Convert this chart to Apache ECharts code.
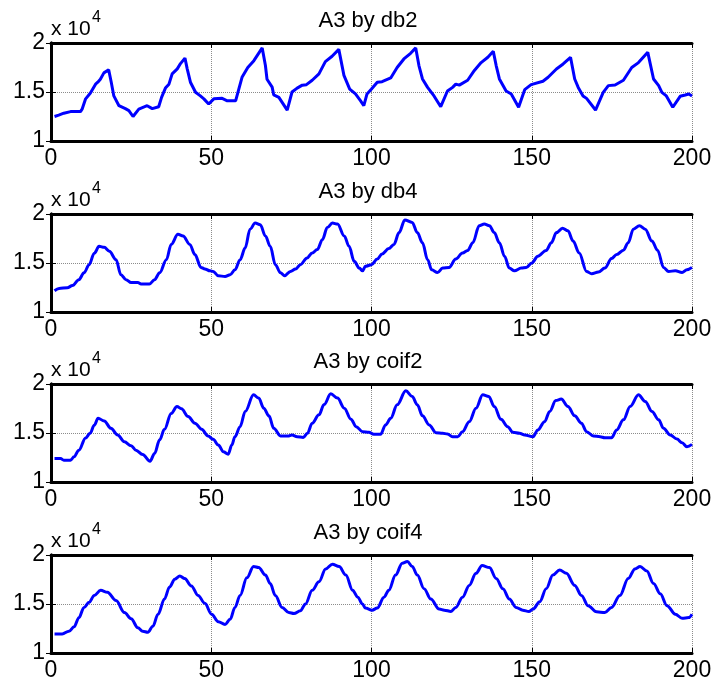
<!DOCTYPE html>
<html>
<head>
<meta charset="utf-8">
<title>A3</title>
<script src="https://cdn.jsdelivr.net/npm/echarts@6/dist/echarts.min.js"></script>
<style>
html, body { margin: 0; padding: 0; background: #fff; }
#main { width: 715px; height: 686px; }
</style>
</head>
<body>
<div id="main"></div>
<script>
// 小波名称
var waveNames = ['db2', 'db4', 'coif2', 'coif4'];

// A3 by db2 (y 单位: x 10^4)
var xDb2 = [1.1,2.4,4,6.1,9.2,9.7,10.8,12.3,13.9,14.6,15.4,16.5,18,18.8,19.6,21.2,23.2,24.3,25.6,27.4,30,31.6,33.6,34.5,35.7,36.8,37.8,39.4,40.4,41.8,42.5,43.5,45.1,46.6,47.7,49.2,50.8,53.4,55,57.6,58.6,59.6,61.4,63.3,65.9,66.9,67.4,69,69.5,71.1,73.7,75.2,76.8,78.4,79.7,81.5,83.6,85.6,87.7,89.8,91.4,93.2,95,96.6,97.6,98.6,100,101.8,103.3,106,108,110.1,112.2,113.8,114.8,115.9,117.5,119.5,121.6,123.7,125.3,126.3,127.4,130,132.1,134.2,136.3,138,138.9,139.9,142,143.6,145.9,147.8,149.8,150.4,153.5,155.1,157.7,159.8,162.1,163.4,164.5,166,167.1,169.9,172.3,173.9,176,178.6,181.2,183.3,186.2,188,189.6,190.6,192,194,196.3,197.9,199,200];
var yDb2 = [1.25,1.264,1.284,1.30,1.30,1.325,1.43,1.49,1.58,1.60,1.63,1.695,1.726,1.60,1.46,1.36,1.33,1.31,1.25,1.325,1.36,1.33,1.35,1.445,1.54,1.58,1.685,1.736,1.79,1.846,1.736,1.60,1.497,1.46,1.43,1.377,1.43,1.435,1.41,1.41,1.53,1.65,1.75,1.82,1.95,1.77,1.63,1.55,1.47,1.445,1.315,1.50,1.54,1.57,1.575,1.62,1.685,1.81,1.865,1.935,1.67,1.53,1.48,1.41,1.36,1.48,1.53,1.60,1.605,1.643,1.75,1.837,1.895,1.95,1.77,1.633,1.547,1.46,1.35,1.51,1.547,1.58,1.57,1.62,1.72,1.80,1.855,1.915,1.77,1.633,1.51,1.48,1.344,1.524,1.575,1.58,1.61,1.65,1.735,1.786,1.854,1.633,1.547,1.46,1.435,1.316,1.497,1.565,1.571,1.62,1.75,1.80,1.905,1.633,1.565,1.497,1.46,1.344,1.456,1.47,1.48,1.46];

// A3 by db4
var xDb4 = [1.1,2.5,5.1,6.7,8.7,10.3,11.9,13.5,15,16.6,18.2,20.3,21.8,23.4,25,27.1,28.1,30.7,32.3,33.9,36,37.5,39.6,41.2,43.3,44.9,46.8,48,49.6,50.6,52.2,54.3,55.9,57.4,59,60.6,62.1,63.7,65.3,66.9,68.4,70,71.6,72.9,74.7,76.3,77.8,79.9,81.5,83.1,84.7,86.2,87.8,89.4,91.5,93,94.6,96.2,97.2,98.1,100,101.8,103.3,105.4,107,108.6,110.4,112.7,114.3,115.9,117.5,118.8,120.6,122.2,124.2,126.3,128.4,130,131.6,133.6,135.2,136.8,138.3,139.9,141.5,143,144.6,146.7,148.3,150,151.9,154.5,156.1,157.7,159.6,161.3,162.9,164.8,167.1,168.7,170.8,172.8,174.9,176.5,178.6,180.1,181.7,183.6,185.4,187.5,189.3,191.1,192.7,194.8,196.9,198.4,200];
var yDb4 = [1.217,1.24,1.248,1.27,1.33,1.40,1.483,1.60,1.67,1.66,1.62,1.534,1.38,1.33,1.30,1.30,1.286,1.286,1.33,1.40,1.534,1.69,1.793,1.776,1.69,1.586,1.455,1.44,1.42,1.414,1.37,1.362,1.38,1.43,1.534,1.655,1.845,1.907,1.89,1.776,1.67,1.483,1.40,1.37,1.414,1.438,1.483,1.552,1.603,1.638,1.74,1.862,1.907,1.897,1.776,1.67,1.517,1.448,1.42,1.466,1.483,1.54,1.593,1.648,1.69,1.81,1.94,1.914,1.81,1.707,1.534,1.43,1.403,1.448,1.455,1.54,1.603,1.628,1.707,1.88,1.897,1.88,1.81,1.707,1.569,1.448,1.42,1.448,1.455,1.50,1.569,1.628,1.707,1.81,1.855,1.828,1.724,1.603,1.414,1.39,1.407,1.448,1.545,1.586,1.631,1.707,1.845,1.88,1.845,1.724,1.628,1.455,1.414,1.42,1.403,1.43,1.455];

// A3 by coif2
var xCoif2 = [1.1,3,4,6.1,7.2,8.7,10.8,12.2,13.5,14.7,16.6,18.7,20.8,22.9,25,26.5,28.6,30.9,32.3,33.9,35.4,37.5,39.3,40.7,42.8,44.9,47,49,50.6,52.2,53.8,55.3,56.4,57.4,59,60.6,63.2,64.8,66.4,68,69.5,71.6,74.2,75.2,76.8,78.7,80,81.5,83.6,85.2,87.3,89.4,91.5,93.6,95.2,97.2,99.2,100.7,102.8,104.4,106,108,110.7,112.7,114.3,115.9,118,120.1,122.2,123.7,125.3,126.9,128.4,130.5,132.6,134.7,136.6,138.3,140.4,142.5,144.1,146.2,147.8,150.4,151.9,154,155.6,157.5,159.2,161.3,163.4,165.5,167.1,169.2,171.3,172.8,174.9,176.5,178.6,180.7,183.3,185.4,187.5,189.6,191.1,193.2,195.3,196.9,198.4,200];
var yCoif2 = [1.24,1.24,1.223,1.223,1.257,1.325,1.45,1.497,1.58,1.65,1.623,1.548,1.48,1.41,1.37,1.325,1.28,1.212,1.29,1.43,1.538,1.70,1.77,1.747,1.668,1.60,1.538,1.47,1.435,1.377,1.308,1.284,1.377,1.462,1.565,1.72,1.89,1.856,1.753,1.675,1.548,1.47,1.47,1.48,1.462,1.455,1.497,1.60,1.685,1.79,1.90,1.856,1.753,1.64,1.565,1.514,1.507,1.486,1.486,1.582,1.65,1.788,1.93,1.873,1.788,1.675,1.582,1.503,1.497,1.49,1.462,1.462,1.514,1.616,1.753,1.89,1.873,1.77,1.64,1.565,1.507,1.497,1.48,1.462,1.531,1.616,1.72,1.832,1.846,1.77,1.675,1.60,1.514,1.47,1.462,1.452,1.452,1.531,1.634,1.77,1.89,1.822,1.72,1.634,1.548,1.48,1.438,1.40,1.36,1.384];

// A3 by coif4
var xCoif4 = [1.1,3.5,5.6,7.2,8.7,10.3,11.9,13.5,15.5,17.6,20.3,22.9,25,27.1,28.6,30.2,31.8,33.4,35.4,37,38.6,40.2,41.7,43.8,45.9,48,50.1,52.2,54.3,55.9,57.4,59,61.1,63.2,64.8,66.9,68.4,70,72.1,74.2,75.8,77.8,79.4,81.5,83.6,85.7,87.8,89.9,92,94.1,95.7,97.2,98.1,100.2,101.8,103.9,105.4,107.5,109.6,111.2,112.7,114.3,116.4,118.5,121.1,122.7,124.8,126.3,128.4,130.5,132.6,134.5,136.8,138.9,141,143,145.1,147.2,149.1,150.4,152.5,154.5,156.6,158.7,160.8,163.4,165.5,167.6,170.2,172.8,174.9,177.5,180.1,182.2,183.8,185.9,188,190.1,192.2,194.8,196.9,199,200];
var yCoif4 = [1.195,1.195,1.222,1.267,1.36,1.465,1.517,1.587,1.64,1.62,1.535,1.413,1.35,1.257,1.222,1.212,1.274,1.396,1.552,1.674,1.753,1.785,1.76,1.684,1.587,1.507,1.396,1.32,1.292,1.344,1.465,1.587,1.767,1.882,1.872,1.795,1.708,1.587,1.465,1.413,1.403,1.43,1.50,1.64,1.726,1.858,1.906,1.882,1.795,1.64,1.57,1.50,1.458,1.437,1.458,1.57,1.64,1.795,1.917,1.934,1.882,1.795,1.656,1.552,1.448,1.437,1.424,1.465,1.57,1.69,1.813,1.892,1.872,1.76,1.656,1.552,1.465,1.437,1.424,1.448,1.524,1.656,1.795,1.847,1.813,1.69,1.587,1.483,1.42,1.413,1.465,1.587,1.76,1.858,1.882,1.837,1.708,1.604,1.483,1.396,1.354,1.361,1.396];

var xList = [xDb2, xDb4, xCoif2, xCoif4];
var yList = [yDb2, yDb4, yCoif2, yCoif4];
var smoothList = [false, 0.35, 0.35, 0.35];

function pairs(xs, ys) {
    var out = [];
    for (var k = 0; k < xs.length; k++) out.push([xs[k], ys[k]]);
    return out;
}

(function () {
    var myChart = echarts.init(document.getElementById('main'));
    var font = '"Liberation Sans", Arial, sans-serif';
    var tops = [43, 214, 384, 555];
    var boxH = 98;

    var grid = [], xAxis = [], yAxis = [], series = [], title = [];
    var boxLine = { show: true, lineStyle: { color: '#000', width: 3 } };
    var tick = { show: true, inside: true, length: 5, lineStyle: { color: '#000', width: 1 } };
    var dotted = { show: true, lineStyle: { color: '#8c8c8c', type: 'dotted', width: 1 } };

    for (var i = 0; i < 4; i++) {
        grid.push({ left: 51, right: 23, top: tops[i], height: boxH });

        // 下方x轴(带刻度值) + 上方x轴(只画框和刻度)
        xAxis.push({
            gridIndex: i, type: 'value', position: 'bottom',
            min: 0, max: 200, interval: 50,
            axisLine: boxLine, axisTick: tick, splitLine: dotted,
            axisLabel: { color: '#000', fontSize: 23, fontFamily: font, margin: 6 }
        });
        xAxis.push({
            gridIndex: i, type: 'value', position: 'top',
            min: 0, max: 200, interval: 50,
            axisLine: boxLine, axisTick: tick, splitLine: { show: false },
            axisLabel: { show: false }
        });

        yAxis.push({
            gridIndex: i, type: 'value', position: 'left',
            min: 1, max: 2, interval: 0.5,
            axisLine: boxLine, axisTick: tick, splitLine: dotted,
            axisLabel: { color: '#000', fontSize: 23, fontFamily: font, margin: 6 }
        });
        yAxis.push({
            gridIndex: i, type: 'value', position: 'right',
            min: 1, max: 2, interval: 0.5,
            axisLine: boxLine, axisTick: tick, splitLine: { show: false },
            axisLabel: { show: false }
        });

        series.push({
            name: 'A3 by ' + waveNames[i],
            type: 'line',
            xAxisIndex: 2 * i,
            yAxisIndex: 2 * i,
            data: pairs(xList[i], yList[i]),
            showSymbol: false,
            smooth: smoothList[i],
            smoothMonotone: 'x',
            lineStyle: { color: '#0000ff', width: 3 },
            itemStyle: { color: '#0000ff' }
        });

        // 标题
        title.push({
            text: 'A3 by ' + waveNames[i],
            left: 368, top: tops[i] - 33, textAlign: 'center', padding: 0,
            textStyle: { color: '#000', fontSize: 22, fontWeight: 'normal', fontFamily: font }
        });
        // x 10^4
        title.push({
            text: 'x 10',
            left: 51, top: tops[i] - 24, padding: 0,
            textStyle: { color: '#000', fontSize: 21, fontWeight: 'normal', fontFamily: font }
        });
        title.push({
            text: '4',
            left: 92, top: tops[i] - 33, padding: 0,
            textStyle: { color: '#000', fontSize: 16, fontWeight: 'normal', fontFamily: font }
        });
    }

    var option = {
        animation: false,
        backgroundColor: '#fff',
        title: title,
        grid: grid,
        xAxis: xAxis,
        yAxis: yAxis,
        series: series
    };
    myChart.setOption(option);
    window.addEventListener('resize', function () {
        myChart.resize();
    });
})();
</script>
</body>
</html>
